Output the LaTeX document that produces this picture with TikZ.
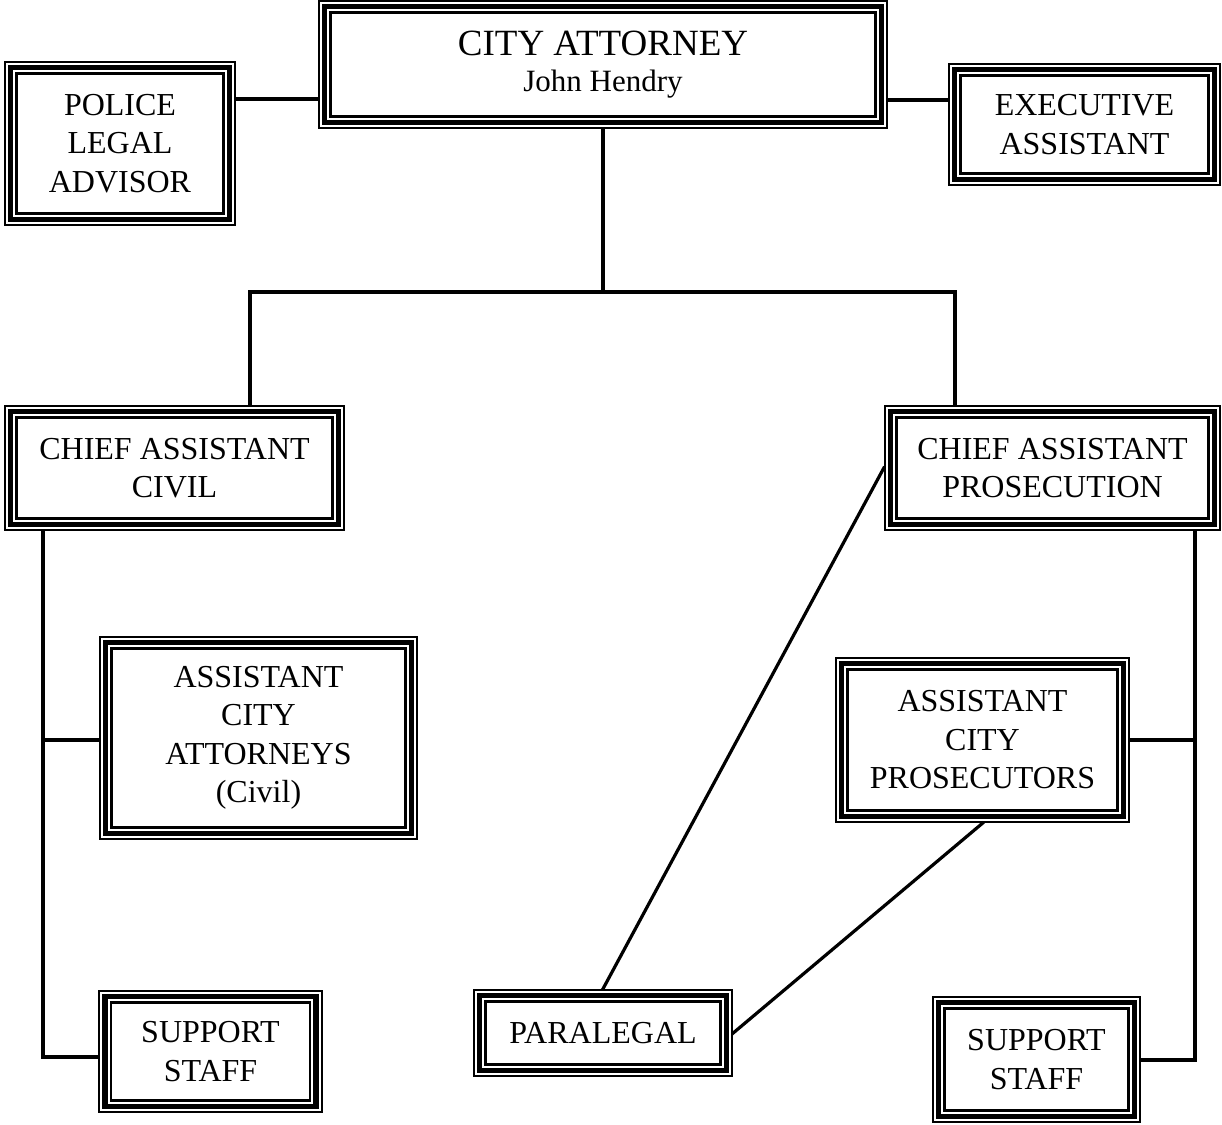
\documentclass[tikz,border=0pt]{standalone}
\usepackage{fontspec}
\setmainfont{Liberation Serif}
\usetikzlibrary{calc}
\tikzset{
  orgbox/.style={draw=none, inner sep=0pt, align=center, font=\fontsize{32}{38.5}\selectfont},
  conn/.style={line width=3.2pt, line cap=rect},
}
\begin{document}
\begin{tikzpicture}[x=1pt,y=-1pt]
\useasboundingbox[fill=white] (0,0) rectangle (1222,1124);
% boxes
\node[orgbox, minimum width=570, minimum height=129] (ca) at (603,64.5)
  {{\fontsize{37}{42}\selectfont CITY ATTORNEY}\\[-3pt]{\fontsize{31}{36}\selectfont John Hendry}};
\node[orgbox, minimum width=232, minimum height=165] (pla) at (120,143.5) {POLICE\\LEGAL\\ADVISOR};
\node[orgbox, minimum width=273, minimum height=123] (ea) at (1084.5,124.5) {EXECUTIVE\\ASSISTANT};
\node[orgbox, minimum width=341, minimum height=126] (cac) at (174.5,468) {CHIEF ASSISTANT\\CIVIL};
\node[orgbox, minimum width=337, minimum height=126] (cap) at (1052.5,468) {CHIEF ASSISTANT\\PROSECUTION};
\node[orgbox, minimum width=319, minimum height=204] (aca) at (258.5,738) {ASSISTANT\\CITY\\ATTORNEYS\\(Civil)};
\node[orgbox, minimum width=295, minimum height=166] (acp) at (982.5,740) {ASSISTANT\\CITY\\PROSECUTORS};
\node[orgbox, minimum width=224, minimum height=123] (ssl) at (210.5,1051.5) {SUPPORT\\STAFF};
\node[orgbox, minimum width=260, minimum height=88] (par) at (603,1033) {PARALEGAL};
\node[orgbox, minimum width=209, minimum height=127] (ssr) at (1036.5,1059.5) {SUPPORT\\STAFF};
% triple borders
\foreach \n in {ca,pla,ea,cac,cap,aca,acp,ssl,par,ssr}{
  \draw[line width=1.8pt] ($(\n.north west)+(0.9,0.9)$) rectangle ($(\n.south east)+(-0.9,-0.9)$);
  \draw[line width=5.5pt] ($(\n.north west)+(6.8,6.8)$) rectangle ($(\n.south east)+(-6.8,-6.8)$);
  \draw[line width=2.4pt] ($(\n.north west)+(12.8,12.8)$) rectangle ($(\n.south east)+(-12.8,-12.8)$);
}
% connectors
\draw[conn] (pla.east |- 0,99) -- (ca.west |- 0,99);
\draw[conn] (ca.east |- 0,100) -- (ea.west |- 0,100);
\coordinate (hub) at (603,292);
\draw[conn] (ca.south) -- (hub);
\draw[conn] (cac.north -| 250,0) |- (hub) -| (cap.north -| 955,0);
\coordinate (lt) at (43,740);
\coordinate (rt) at (1195,740);
\draw[conn] (cac.south -| lt) |- (ssl.west |- 0,1057);
\draw[conn] (lt) -- (aca.west |- lt);
\draw[conn] (cap.south -| rt) |- (ssr.east |- 0,1060);
\draw[conn] (rt) -- (acp.east |- rt);
\draw[conn] (cap.west |- 0,468) -- (par.north);
\draw[conn] (acp.south) -- (par.east);
\end{tikzpicture}
\end{document}
